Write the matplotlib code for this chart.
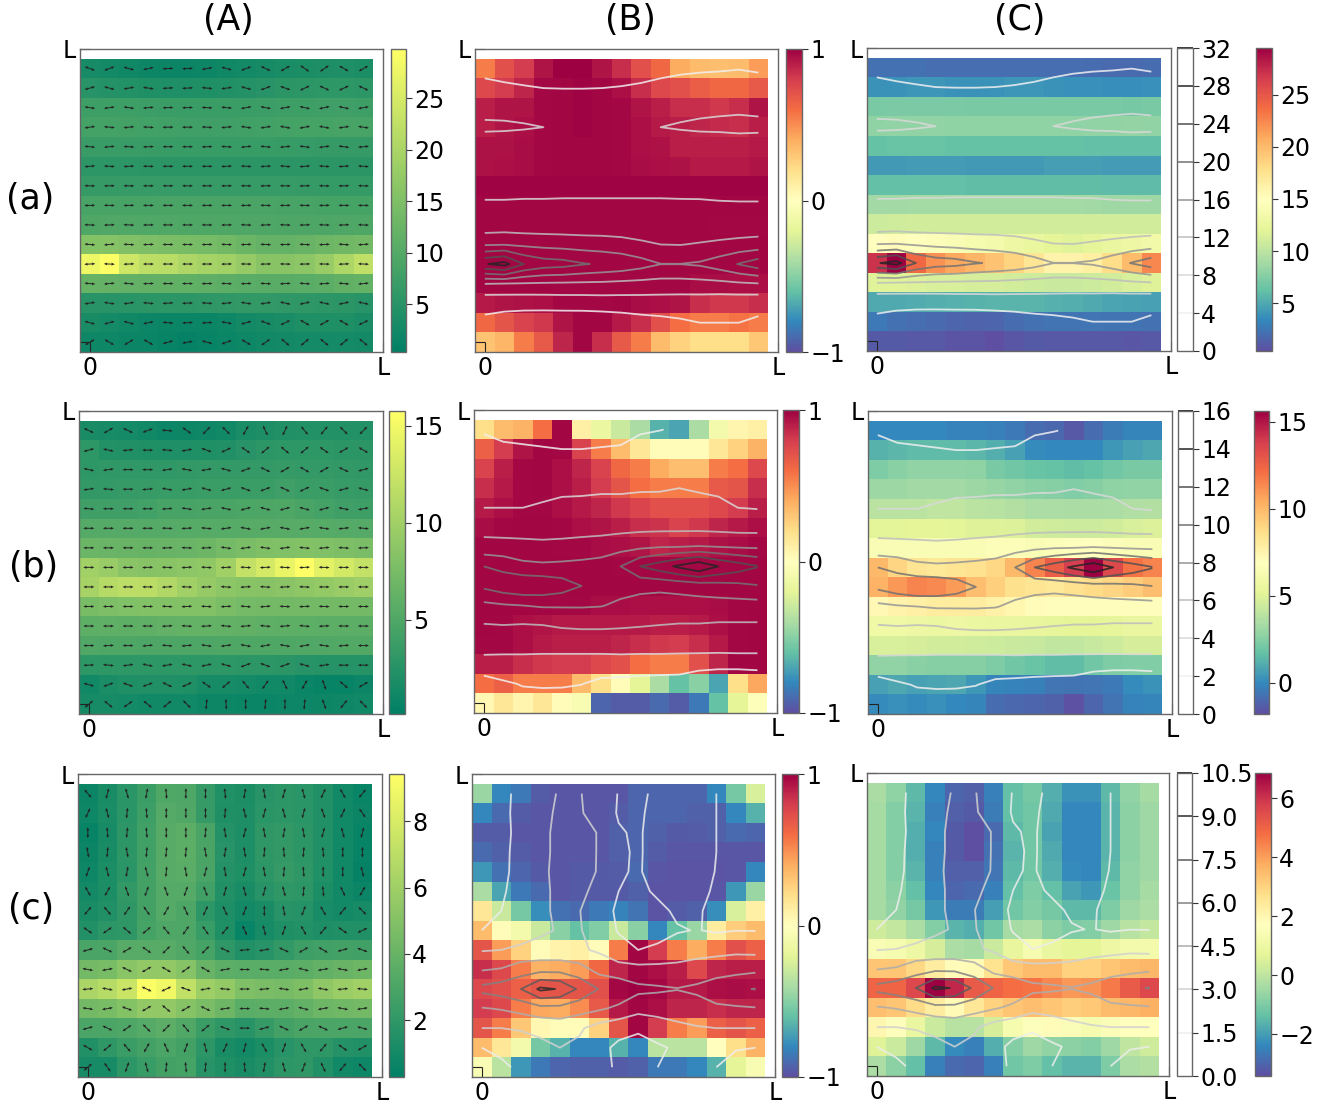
import numpy as np
import matplotlib
matplotlib.use('Agg')
import matplotlib.pyplot as plt

W, H = 1329, 1104

# every table is written with the top row first, as seen in the picture
mag_a = [
    [3, 2.6, 2.2, 1.9, 1.7, 1.7, 1.9, 2.2, 2.6, 3, 3.4, 3.6, 3.7, 3.9, 3.6],
    [5, 4.6, 4.3, 4, 3.9, 3.9, 4, 4.2, 4.5, 5, 5.3, 5.5, 5.7, 5.7, 5.5],
    [7.5, 7.5, 7.4, 7.3, 7.2, 7.1, 7.1, 7.1, 7.2, 7.3, 7.4, 7.5, 7.6, 7.6, 7.5],
    [8.3, 8.25, 8.15, 8, 7.8, 7.7, 7.7, 7.7, 7.8, 8, 8.2, 8.4, 8.5, 8.7, 8.6],
    [7, 7, 6.9, 6.9, 6.8, 6.8, 6.8, 6.8, 6.8, 6.8, 6.7, 6.6, 6.5, 6.5, 6.5],
    [5.5, 5.5, 5.5, 5.4, 5.3, 5.3, 5.3, 5.3, 5.4, 5.4, 5.4, 5.3, 5.4, 5.4, 5.4],
    [6.5, 6.5, 6.6, 6.6, 6.6, 6.6, 6.6, 6.6, 6.6, 6.6, 6.6, 6.5, 6.4, 6.4, 6.4],
    [8.6, 8.6, 8.7, 8.7, 8.8, 8.8, 8.8, 8.8, 8.8, 8.8, 8.7, 8.7, 8.5, 8.4, 8.4],
    [9.5, 9.7, 9.6, 9.6, 9.6, 9.5, 9.5, 9.5, 9.4, 9.4, 9.3, 9.3, 9.3, 9.4, 9.5],
    [15.6, 15.8, 15.2, 14.8, 14.5, 14.2, 14, 13.5, 12.7, 12, 11.9, 12.3, 12.8, 13.3, 13.7],
    [27.7, 29.4, 24, 22, 21.5, 20.3, 19.5, 18.8, 17.5, 16.05, 16.05, 16.5, 18, 20.2, 22.3],
    [12.1, 12, 11.8, 11.6, 11.5, 11.4, 11.3, 11, 10.8, 10.6, 10.6, 10.8, 11, 11.5, 11.9],
    [5, 5, 5.1, 5.3, 5.5, 5.6, 5.8, 5.9, 6, 6, 5.9, 5.8, 5.5, 5.3, 5],
    [3.3, 2.7, 2.2, 1.8, 1.6, 1.5, 1.6, 2, 2.6, 3, 3.5, 4, 4, 4, 3.5],
    [2, 2, 1.7, 1.5, 1.2, 1, 1.2, 1.6, 2, 2.4, 2.6, 2.8, 2.8, 2.7, 2.6],
]
mag_b = [
    [1.7, 1.5, 1.4, 1.3, 0.9, 1, 1.1, 1.2, 1.8, 1.95, 2.2, 2.3, 2.3, 2.3, 2.3],
    [3, 2.3, 2.2, 2.1, 2, 2, 2.1, 2.2, 2.6, 2.9, 3, 3, 3, 2.8, 2.8],
    [3, 3.1, 3.1, 3.1, 3.1, 3.2, 3.3, 3.3, 3.3, 3.3, 3.4, 3.3, 3.3, 3.2, 3.1],
    [3.2, 3.3, 3.4, 3.5, 3.6, 3.6, 3.7, 3.7, 3.8, 3.8, 4, 3.8, 3.7, 3.5, 3.4],
    [4, 4, 4, 4.2, 4.5, 4.6, 4.7, 4.7, 4.8, 4.9, 5, 4.7, 4.4, 4, 3.9],
    [5.3, 5.3, 5.3, 5.3, 5.3, 5.4, 5.4, 5.4, 5.5, 5.5, 5.5, 5.5, 5.4, 5.3, 5.3],
    [6.7, 6.6, 6.5, 6.4, 6.5, 6.6, 6.8, 7.3, 7.6, 7.9, 8, 8.1, 8, 7.8, 7.7],
    [10, 9.5, 8.6, 8.4, 8.5, 8.7, 9, 10, 12, 13.1, 14.4, 15.7, 14, 13, 12.1],
    [10.4, 11.2, 11.7, 11.6, 11, 10, 9.3, 8.8, 8.5, 8.4, 8.6, 8.9, 9.2, 9.5, 9.9],
    [7.5, 7.8, 8, 8.2, 8.2, 8.2, 8.1, 7.6, 7.3, 7.2, 7.2, 7.2, 7.2, 7.2, 7.2],
    [5.9, 6, 5.9, 6, 6.2, 6.3, 6.3, 6.2, 6.1, 6, 5.9, 5.9, 5.8, 5.8, 5.8],
    [5.1, 5, 5, 4.9, 4.9, 4.9, 4.9, 5, 5, 5, 5, 5.1, 5.1, 5.2, 5.2],
    [3, 3, 3, 3, 3, 3, 3, 3, 2.9, 2.9, 2.8, 2.6, 2.5, 2.5, 2.5],
    [1.3, 1.8, 2.1, 2.2, 2.2, 2.05, 1.6, 1.5, 1.4, 1.3, 1.3, 0.8, 0.6, 0.6, 0.9],
    [1.5, 1.5, 1.4, 1.3, 1.2, 1.2, 1, 1, 0.8, 0.8, 0.9, 0.9, 1, 1.1, 1.2],
]
mag_c = [
    [0.7, 1.2, 1.8, 2.4, 3.15, 3.1, 2.2, 1.45, 1.3, 1.7, 1.9, 1.8, 1.5, 0.9, 0.6],
    [0.8, 1.25, 1.8, 2.5, 3.3, 3.2, 2.2, 1.4, 1.35, 1.8, 1.9, 1.8, 1.5, 0.9, 0.7],
    [0.55, 1.1, 1.9, 2.6, 3.4, 3.6, 2.9, 1.6, 1.35, 2, 2.1, 1.9, 1.5, 0.9, 0.55],
    [0.7, 1.2, 1.9, 2.6, 3.4, 3.6, 2.9, 1.7, 1.35, 2, 2.1, 1.9, 1.5, 0.9, 0.55],
    [0.8, 1.3, 1.8, 2.7, 3.4, 3.5, 2.9, 1.6, 1.4, 1.9, 2.2, 2, 1.45, 0.9, 0.5],
    [1, 1.3, 2.1, 2.7, 3.3, 3.3, 2.6, 1.5, 1.2, 1.7, 2, 1.9, 1.3, 0.9, 0.7],
    [1.2, 1.5, 2, 2.7, 3.3, 3.05, 1.9, 1.35, 1, 1.2, 1.7, 1.65, 1.15, 1, 1.1],
    [1.5, 1.9, 2, 2.8, 3.1, 3.1, 2.3, 1.4, 0.6, 1.1, 1.4, 1.55, 1.35, 1.48, 1.47],
    [2.9, 3, 3.4, 3.4, 3.4, 3.2, 2.8, 2, 1.5, 1.7, 2.1, 2.5, 2.6, 2.7, 2.6],
    [4.4, 4.6, 5.2, 5.5, 5.5, 5.1, 4, 3.6, 3.5, 3.5, 3.5, 3.6, 3.8, 4, 4.2],
    [6.4, 6.8, 7.5, 9.3, 8.9, 7.2, 5.95, 5.6, 4.85, 4.7, 4.55, 4.8, 5.4, 5.8, 6.05],
    [4.4, 4.6, 5, 5.5, 5.5, 5.1, 4.7, 4.2, 3.5, 3.6, 3.6, 3.8, 4.2, 4.3, 4.4],
    [3, 3, 3.1, 3.3, 3.6, 3.2, 2.4, 2, 1.7, 2.2, 2.7, 2.9, 3, 3, 3],
    [1.5, 2, 2.4, 2.7, 3, 2.7, 1.9, 1.2, 1, 1.3, 1.7, 2, 2, 1.6, 1.5],
    [1.1, 1.1, 1.9, 2.3, 2.7, 2.8, 1.7, 1.4, 1.2, 1.5, 1.9, 2, 1.5, 0.95, 0.8],
]

# director angle in degrees for the arrows of column (A)
angle_a = [
    [-20, 20, -15, 12, 3, 3, 10, -15, 20, -25, 30, -35, 35, -30, 30],
    [15, -15, 10, -8, 3, 3, -5, 8, -15, 20, -20, 25, -25, 25, -25],
    [-8, 8, -8, 5, 2, 2, -3, -5, 10, -10, 10, -12, 12, -12, 10],
    [8, -5, 5, -3, 1, 0, -3, 5, -8, 8, -10, 10, -10, 8, -8],
    [-5, 5, -3, 2, 0, 0, 2, -3, 5, -5, 5, -7, 7, -7, 5],
    [5, -3, 3, -1, 0, 0, 0, 3, -3, 3, -5, 5, -4, 4, -4],
    [-1, 1, -1, 0, 0, 0, 0, 1, -1, 1, -1, 1, -1, 1, -1],
    [1, -1, 1, 0, 0, 0, 0, 0, 1, -1, 1, -1, 1, 0, 0],
    [-2, 2, -2, 1, 0, 0, 0, 1, -2, 2, -2, 2, -2, 2, -2],
    [-5, 5, -3, 2, 0, 0, 1, -2, 2, -2, 2, -3, 3, -4, 4],
    [3, -2, 2, 0, 0, 0, 0, 1, -1, 1, -1, 1, -1, 2, -2],
    [-5, 5, -5, 2, 0, 0, 1, -2, 2, -3, 3, -4, 4, -5, 5],
    [8, -8, 8, -5, 3, 2, -3, 5, -8, 8, -12, 12, -12, 12, -12],
    [-15, 15, -15, 12, -5, 3, 3, -10, 15, -20, 25, -30, 30, -30, 25],
    [30, -30, 30, -30, 15, 10, -15, 20, -30, 35, -40, 40, -40, 40, -40],
]
angle_b = [
    [-25, 30, -25, 20, -5, -35, 45, -45, 60, -65, 65, -50, 50, -45, 45],
    [15, -12, 5, 0, -5, 10, -20, 25, -35, 40, -40, 40, -35, 30, -30],
    [-12, 8, 0, 0, 8, -10, 10, -15, 20, -25, 30, -30, 30, -25, 15],
    [8, -5, 0, 5, -10, 10, -15, 15, -20, 20, -25, 25, -20, 15, -15],
    [-5, 0, 0, 0, 3, -8, 8, -12, 15, -15, 15, -15, 15, -12, 10],
    [0, 0, 0, 0, -2, 3, -5, 8, -10, 10, -10, 10, -8, 6, -5],
    [0, 0, 0, 0, 2, -2, 3, -8, 8, -8, 8, -5, 5, -3, 2],
    [0, 0, 0, 2, -2, 3, -3, 3, -3, 3, -3, 3, -2, 0, 0],
    [0, 0, 0, 0, 3, -2, 2, -3, 3, -3, 3, -2, 0, 0, 0],
    [0, 0, 0, 0, -3, 3, -3, 3, -5, 5, -3, 3, -2, 0, 0],
    [0, 0, 0, 0, 3, -3, 3, -5, 5, -5, 5, -5, 3, 0, 0],
    [0, 3, 0, 5, -5, 5, -8, 8, -10, 10, -10, 10, -8, 5, 0],
    [2, -5, 8, -12, 10, -12, 12, -15, 20, -20, 20, -15, 8, 0, 0],
    [-15, 20, -20, 20, -25, 25, -35, 40, -50, 55, -65, 60, -70, -40, 30],
    [40, -40, 35, -40, 40, -45, 85, -88, 90, 85, 90, 85, -70, 50, -45],
]
angle_c = [
    [-50, 75, -75, 80, -85, 90, 90, -85, 80, -80, 75, -75, 65, -60, 50],
    [65, -75, 85, -85, 90, 90, -90, 85, -75, 75, -75, 75, -70, 65, -55],
    [90, -85, 85, -85, 90, 90, 85, -80, 75, -80, 80, -80, 75, -75, 75],
    [-80, 85, -80, 85, 85, 85, -80, 80, -80, 85, -85, 85, -85, 90, 90],
    [70, -75, 80, -75, 85, -80, 75, -80, 75, -80, 85, -85, 90, 90, -75],
    [-60, 60, -70, 70, -70, 70, -70, 75, -75, 75, -75, 85, -85, -65, 60],
    [50, -50, 55, -55, 60, -65, 65, -65, 70, 90, -80, 70, -60, 50, -45],
    [-35, 35, -40, 40, -50, 55, -55, 50, -65, -75, 70, -60, 50, -35, 25],
    [15, -25, 30, -35, 45, -50, 45, -25, 5, 10, -25, 30, -30, 15, -20],
    [-10, 10, -25, 30, -30, 35, -30, 10, 0, -5, 10, -15, 10, -10, 10],
    [5, -10, 10, -25, 25, -20, 10, -5, 0, 5, -8, 10, -10, 5, -5],
    [-8, 10, -20, 30, -40, 30, -25, 8, 0, -5, 10, -15, 10, -10, 8],
    [15, -25, 35, -45, 45, -50, 40, -20, 0, 15, -25, 30, -25, 15, -15],
    [-30, 40, -50, 60, -65, 70, -75, 65, 75, -60, 70, -60, 50, -35, 30],
    [40, -55, 70, -75, 85, -85, 85, 90, -85, 80, -75, 70, -65, 50, -45],
]

# column (B), correlation between -1 and 1
corr_a = [
    [.55, .72, .8, .93, 1, 1, .93, .85, .72, .62, .4, .35, .33, .35, .45],
    [.75, .8, .88, .97, .98, .99, .98, .95, .85, .75, .72, .66, .62, .62, .68],
    [.9, .93, .93, .97, .98, .99, .98, .97, .93, .9, .85, .85, .82, .85, .93],
    [.9, .93, .95, .97, .98, .99, .98, .97, .95, .92, .9, .88, .86, .85, .9],
    [.94, .94, .96, .97, .98, .98, .98, .97, .95, .94, .9, .9, .9, .9, .92],
    [.94, .95, .96, .97, .98, .98, .98, .97, .96, .95, .94, .92, .92, .92, .93],
    [.99, .99, .99, .99, .99, .99, .99, .99, .99, .99, .99, .99, .99, .99, .99],
    [.98, .98, .98, .98, .98, .98, .98, .98, .98, .98, .98, .98, .98, .98, .98],
    [.98, .98, .98, .98, .98, .98, .98, .98, .98, .98, .98, .98, .97, .97, .97],
    [.98, .98, .98, .98, .98, .98, .98, .98, .98, .98, .98, .98, .98, .98, .98],
    [.98, .98, .98, .98, .98, .98, .98, .98, .98, .98, .98, .98, .98, .98, .98],
    [.98, .98, .98, .98, .97, .97, .97, .97, .97, .97, .97, .96, .96, .95, .95],
    [.92, .93, .94, .95, .97, .97, .97, .98, .96, .95, .93, .85, .82, .82, .85],
    [.62, .7, .78, .82, .93, .98, .98, .92, .85, .72, .6, .55, .55, .58, .55],
    [.32, .37, .55, .68, .88, .98, .85, .68, .55, .35, .25, .2, .2, .2, .3],
]
corr_b = [
    [.2, .35, .38, .6, .98, .1, -.15, -.3, -.4, -.65, -.7, -.4, -.1, .07, .1],
    [.65, .8, .93, .98, .97, .78, .55, .35, .15, .02, .02, .02, .15, .25, .38],
    [.78, .9, .97, .98, .95, .88, .78, .62, .55, .4, .33, .33, .55, .6, .75],
    [.85, .92, .97, .98, .95, .9, .8, .7, .6, .55, .55, .55, .68, .7, .85],
    [.92, .95, .97, .97, .95, .92, .88, .82, .77, .72, .72, .72, .75, .8, .9],
    [.96, .97, .98, .98, .97, .95, .93, .9, .85, .83, .78, .82, .88, .92, .95],
    [.98, .98, .98, .98, .97, .97, .96, .95, .93, .88, .9, .92, .94, .96, .97],
    [.98, .98, .98, .98, .98, .98, .98, .97, .97, .97, .97, .97, .97, .98, .98],
    [.98, .98, .98, .98, .98, .98, .98, .98, .98, .98, .98, .98, .98, .98, .98],
    [.98, .98, .98, .98, .97, .97, .96, .96, .95, .95, .95, .95, .96, .97, .98],
    [.98, .97, .95, .93, .92, .92, .92, .92, .92, .9, .9, .92, .95, .97, .98],
    [.97, .97, .95, .92, .9, .9, .9, .88, .85, .82, .8, .85, .92, .97, .98],
    [.9, .9, .85, .82, .8, .8, .75, .72, .6, .55, .55, .72, .88, .98, .98],
    [.6, .65, .55, .55, .55, .35, .2, .03, -.2, -.4, -.6, -.5, -.7, .2, .42],
    [.05, .15, .07, .15, .03, -.07, -.92, -.95, -.95, -.9, -.95, -.85, -.6, -.2, -.03],
]
corr_c = [
    [-.45, -.8, -.85, -.95, -.97, -.97, -.97, -.97, -.92, -.92, -.92, -.92, -.8, -.55, -.25],
    [-.8, -.9, -.95, -.97, -.97, -.97, -.97, -.95, -.92, -.92, -.92, -.93, -.93, -.8, -.65],
    [-.95, -.95, -.97, -.97, -.97, -.97, -.97, -.93, -.92, -.93, -.96, -.95, -.93, -.9, -.92],
    [-.9, -.93, -.95, -.97, -.97, -.97, -.97, -.94, -.92, -.95, -.97, -.97, -.97, -.97, -.97],
    [-.75, -.88, -.92, -.96, -.97, -.96, -.96, -.95, -.9, -.97, -.98, -.98, -.98, -.97, -.8],
    [-.4, -.7, -.85, -.9, -.97, -.96, -.96, -.96, -.93, -.98, -.98, -.98, -.97, -.75, -.45],
    [.15, -.3, -.55, -.78, -.88, -.9, -.85, -.82, -.87, -.98, -.95, -.93, -.78, -.25, .1],
    [.35, .02, -.1, -.3, -.5, -.6, -.52, -.3, -.5, -.8, -.6, -.45, .12, .28, .35],
    [.7, .45, .25, .02, .08, .1, .02, .55, .98, .8, .55, .4, .55, .72, .65],
    [.85, .75, .55, .38, .4, .45, .62, .88, .98, .95, .9, .75, .88, .9, .9],
    [.75, .72, .65, .7, .7, .7, .72, .97, 1, .97, .92, .92, .95, .96, .95],
    [.8, .75, .55, .42, .4, .5, .68, .92, .98, .95, .88, .88, .85, .88, .88],
    [.7, .55, .3, .05, .03, .03, .25, .7, .98, .8, .55, .45, .65, .7, .65],
    [.35, .15, -.1, -.55, -.65, -.8, -.8, -.65, -.8, -.35, -.35, -.35, 0, .2, .38],
    [-.05, -.35, -.75, -.85, -.92, -.93, -.93, -.95, -.93, -.85, -.85, -.8, -.65, -.2, -.07],
]

# column (C)
comp_a = [
    [2.2, 2.2, 2.2, 2.1, 2, 2, 2, 2.1, 2.1, 2.1, 2, 1.9, 1.8, 1.8, 1.9],
    [3.9, 3.9, 4, 4, 3.9, 3.9, 3.9, 4, 4, 3.9, 3.8, 3.7, 3.6, 3.6, 3.7],
    [7.1, 7.2, 7.2, 7.2, 7.2, 7.1, 7.1, 7.1, 7.1, 7.1, 7.1, 7, 7, 6.9, 7],
    [8, 8.1, 8.1, 8.1, 8, 8, 8, 8, 8, 8, 8, 8.1, 8.1, 8.2, 8.1],
    [6.3, 6.4, 6.4, 6.4, 6.3, 6.3, 6.3, 6.2, 6.2, 6.2, 6.2, 6.1, 6.1, 6.1, 6.1],
    [4.2, 4.2, 4.3, 4.3, 4.3, 4.2, 4.2, 4.2, 4.2, 4.4, 4.4, 4.4, 4.3, 4.3, 4.3],
    [6.1, 6.1, 6.1, 6.1, 6.1, 6, 6, 6, 6, 6, 6, 6, 5.9, 5.9, 5.9],
    [8.8, 8.8, 8.9, 8.9, 8.9, 8.9, 8.9, 8.9, 8.9, 8.9, 8.9, 8.8, 8.6, 8.6, 8.6],
    [10.8, 10.9, 11, 11, 11, 11, 11, 11, 11, 11, 11, 11, 11, 11, 11],
    [15, 15.3, 14.8, 14.4, 14.2, 13.8, 13.5, 13, 12.5, 12, 11.8, 12.2, 12.6, 13, 13.4],
    [27, 29.5, 24, 22, 21, 20.3, 19.5, 18.5, 17.3, 16, 16, 16.5, 18, 20, 22.5],
    [11.8, 11.8, 11.6, 11.4, 11.4, 11.3, 11.2, 11, 10.8, 10.6, 10.6, 10.8, 11, 11.4, 11.7],
    [5, 5, 5.1, 5.2, 5.4, 5.5, 5.6, 5.6, 5.6, 5.4, 5.2, 5, 4.8, 4.7, 4.6],
    [2.6, 2.2, 2, 1.8, 1.6, 1.5, 1.6, 1.9, 2.2, 2.3, 2.3, 2.4, 2.3, 2.3, 2.2],
    [1, 1, 0.9, 0.9, 0.7, 0.7, 0.4, 0.8, 1, 0.9, 0.9, 0.9, 0.9, 0.8, 0.9],
]
comp_b = [
    [0, 0, 0, 0, -.2, -.2, -.3, -.5, -.9, -1, -1.5, -.9, -.4, -.1, -.1],
    [1.2, 1.4, 1.5, 1.5, 1.5, 1.4, 1.1, .7, .1, 0, 0, 0, .4, .7, .9],
    [2.3, 2.6, 2.8, 2.8, 2.8, 2.7, 2.2, 2, 1.8, 1.7, 1.6, 1.7, 2, 2.2, 2.2],
    [3.1, 3.1, 3.2, 3.2, 3.2, 3.1, 2.9, 2.8, 2.6, 2.5, 2.4, 2.5, 2.7, 2.8, 2.8],
    [3.9, 3.9, 3.9, 4, 4, 3.9, 3.8, 3.7, 3.5, 3.5, 3.4, 3.4, 3.5, 3.6, 3.7],
    [5.1, 5.1, 5.2, 5.2, 5.1, 5, 5, 4.9, 4.6, 4.5, 4.4, 4.4, 4.6, 4.8, 4.9],
    [6.5, 6.5, 6.4, 6.4, 6.5, 6.5, 6.6, 6.6, 6.5, 6.6, 6.8, 6.9, 6.6, 6.5, 6.4],
    [10, 9, 8.4, 8.2, 8.4, 8.5, 8.9, 10, 11.5, 12.7, 13.8, 15.6, 13.4, 12, 11.5],
    [10.2, 11, 11.5, 11.4, 10.9, 9.8, 9.2, 8.6, 8.4, 8.2, 8.5, 8.8, 9, 9.3, 9.8],
    [7.3, 7.6, 7.8, 8, 8, 7.9, 7.7, 7.4, 7.1, 7, 7, 7, 7, 7, 7],
    [5.8, 5.8, 5.7, 5.6, 5.7, 5.6, 5.5, 5.5, 5.4, 5.3, 5.2, 5.2, 5.3, 5.5, 5.5],
    [4.8, 4.8, 4.7, 4.6, 4.6, 4.5, 4.4, 4.3, 4.2, 4.1, 4.1, 4.2, 4.4, 4.7, 4.7],
    [2.8, 2.8, 2.6, 2.5, 2.5, 2.5, 2.3, 2, 1.8, 1.6, 1.6, 2, 2.3, 2.4, 2.4],
    [.7, .9, .7, .8, .9, .4, -.1, -.2, -.3, -.6, -.7, -.6, -.5, .1, .3],
    [.1, .2, .1, .2, 0, -.1, -.9, -1, -1.1, -1.2, -1.7, -1.1, -.7, -.2, -.1],
]
comp_c = [
    [-.34, -.75, -1.5, -2.4, -3, -3.1, -2.5, -1.4, -1.1, -1.7, -2.2, -2.2, -1.5, -.7, -.4],
    [-.4, -.9, -1.6, -2.5, -3.1, -3.2, -2.6, -1.4, -1.2, -1.8, -2.4, -2.4, -1.6, -.8, -.5],
    [-.4, -.9, -1.7, -2.4, -3.2, -3.4, -2.9, -1.5, -1.2, -1.9, -2.4, -2.4, -1.6, -.8, -.5],
    [-.4, -.9, -1.7, -2.5, -3.2, -3.4, -2.8, -1.6, -1.2, -1.8, -2.4, -2.4, -1.6, -.8, -.5],
    [-.4, -.9, -1.6, -2.5, -3.1, -3.1, -2.7, -1.5, -1.2, -1.7, -2.3, -2.4, -1.5, -.7, -.5],
    [-.4, -.8, -1.4, -2.4, -3, -2.9, -2.5, -1.4, -1, -1.4, -1.9, -2.1, -1.3, -.7, -.4],
    [-.4, -.7, -1.1, -2.1, -2.6, -2.6, -2, -1.2, -.9, -1.1, -1.5, -1.5, -1, -.5, -.3],
    [.3, .1, -.3, -.9, -1.6, -1.7, -1.2, -.4, -.3, -.8, -1, -.9, -.5, -.1, .1],
    [1.4, 1.3, 1, .4, -.3, -.4, .2, .8, 1.3, .9, .7, .7, 1, 1.2, 1.2],
    [3.3, 3.3, 2.9, 2.3, 1.8, 1.9, 2.6, 3.2, 3.5, 3.5, 3, 3, 3.3, 3.5, 3.6],
    [5, 5, 5.6, 6.85, 6.2, 5.2, 5, 4.8, 4.7, 4.4, 4.1, 4.2, 4.6, 5.2, 5.6],
    [3.4, 3.3, 2.8, 2.3, 1.9, 2.5, 3, 3.3, 3.4, 3.3, 3.1, 3.2, 3.5, 3.6, 3.7],
    [2, 1.6, .9, .2, -.1, -.1, .4, 1.3, 1.6, 1.8, 1.5, 1.3, 1.5, 1.7, 1.7],
    [.6, .2, -.5, -1.5, -2.3, -2.5, -1.7, -.9, -.5, -.7, -.8, -.9, -.5, 0, .3],
    [-.3, -.8, -1.4, -2.5, -2.9, -3, -2.5, -1.2, -1, -1.4, -1.6, -1.6, -1, -.3, -.2],
]

mag_tables = [mag_a, mag_b, mag_c]
angle_tables = [angle_a, angle_b, angle_c]
corr_tables = [corr_a, corr_b, corr_c]
comp_tables = [comp_a, comp_b, comp_c]

mag_limits = [(0.35, 29.76), (0.15, 15.77), (0.29, 9.42)]
comp_limits = [(0.4, 29.5), (-1.8, 15.63), (-3.42, 6.85)]
mag_ticks = [[5, 10, 15, 20, 25], [5, 10, 15], [2, 4, 6, 8]]
comp_ticks = [[5, 10, 15, 20, 25], [0, 5, 10, 15], [-2, 0, 2, 4, 6]]
contour_levels = [
    [0, 4, 8, 12, 16, 20, 24, 28, 32],
    [0, 2, 4, 6, 8, 10, 12, 14, 16],
    [0, 1.5, 3, 4.5, 6, 7.5, 9, 10.5],
]
row_names = ['(a)', '(b)', '(c)']
col_names = ['(A)', '(B)', '(C)']

# pixel boxes: left, top, right, bottom
box_A = [(80, 49, 383, 352), (79, 411, 383, 714), (78, 774, 382, 1077)]
box_B = [(475, 49, 778, 352), (474, 410, 777, 713), (472, 774, 775, 1077)]
box_C = [(867, 48, 1171, 351), (868, 411, 1172, 714), (867, 773, 1169, 1076)]
bar_A = [(391, 49, 406, 352), (389, 411, 405, 714), (389, 774, 404, 1077)]
bar_B = [(786, 49, 802, 352), (783, 410, 799, 713), (782, 774, 798, 1077)]
bar_lines = [(1177, 48, 1193, 351), (1178, 411, 1193, 714), (1177, 773, 1192, 1076)]
bar_C = [(1256, 48, 1272, 351), (1254, 411, 1269, 714), (1255, 773, 1271, 1076)]
row_pos = [(30, 199), (34, 567), (31, 909)]
col_pos = [(228, 20), (630, 20), (1020, 20)]

FS = 17
GRAY = '#666666'
edges = np.arange(16)
centres = edges[:-1] + 0.5


def px_axes(fig, box):
    left, top, right, bottom = box
    return fig.add_axes([left / W, 1 - bottom / H, (right - left) / W, (bottom - top) / H])


def style_panel(ax):
    ax.set_xlim(0, 15.5)
    ax.set_ylim(0, 15.5)
    ax.set_xticks([0.5, 15.5], ['0', 'L'])
    ax.set_yticks([0.5, 15.5], ['', 'L'])
    ax.tick_params(direction='in', length=7, width=0.8, labelsize=FS, pad=3, color='#222222')
    for s in ax.spines.values():
        s.set_color(GRAY)
        s.set_linewidth(1.0)


def style_bar(cb):
    cb.ax.tick_params(length=4, width=0.8, labelsize=FS, pad=2, color='#333333')
    cb.outline.set_edgecolor(GRAY)
    cb.outline.set_linewidth(1.0)


def draw_field(fig, ax, cax, field, cmap, limits, ticks):
    mesh = ax.pcolormesh(edges, edges, field, cmap=cmap, vmin=limits[0], vmax=limits[1])
    style_panel(ax)
    cb = fig.colorbar(mesh, cax=cax, ticks=ticks)
    style_bar(cb)


def draw_contours(ax, mag, levels):
    return ax.contour(centres, centres, mag, levels=levels, cmap='Greys',
                      vmin=levels[0], vmax=levels[-1], linewidths=1.3, alpha=0.85)


fig = plt.figure(figsize=(W / 100, H / 100), dpi=100)

for i in range(3):
    mag = np.array(mag_tables[i], dtype=float)[::-1]
    angle = np.radians(np.array(angle_tables[i], dtype=float)[::-1])
    corr = np.array(corr_tables[i], dtype=float)[::-1]
    comp = np.array(comp_tables[i], dtype=float)[::-1]
    levels = contour_levels[i]

    # column A: magnitude with double headed directors
    ax = px_axes(fig, box_A[i])
    draw_field(fig, ax, px_axes(fig, bar_A[i]), mag, 'summer', mag_limits[i], mag_ticks[i])
    X, Y = np.meshgrid(centres, centres)
    U, V = 0.28 * np.cos(angle), 0.28 * np.sin(angle)
    for sign in (1, -1):
        ax.quiver(X, Y, sign * U, sign * V, angles='xy', scale_units='xy', scale=1,
                  units='xy', width=0.05, headwidth=3, headlength=3.5, headaxislength=3,
                  pivot='tail', color='#222222')

    # column B: correlation with contours of the magnitude
    ax = px_axes(fig, box_B[i])
    draw_field(fig, ax, px_axes(fig, bar_B[i]), corr, 'Spectral_r', (-1, 1), [-1, 0, 1])
    draw_contours(ax, mag, levels)

    # column C: component, contours and their own line colorbar
    ax = px_axes(fig, box_C[i])
    draw_field(fig, ax, px_axes(fig, bar_C[i]), comp, 'Spectral_r', comp_limits[i], comp_ticks[i])
    cs = draw_contours(ax, mag, levels)
    cb = fig.colorbar(cs, cax=px_axes(fig, bar_lines[i]), ticks=levels)
    style_bar(cb)

for name, (x, y) in zip(row_names, row_pos):
    fig.text(x / W, 1 - y / H, name, fontsize=25, ha='center', va='center')
for name, (x, y) in zip(col_names, col_pos):
    fig.text(x / W, 1 - y / H, name, fontsize=25, ha='center', va='center')

fig.savefig('out.png', dpi=100)
